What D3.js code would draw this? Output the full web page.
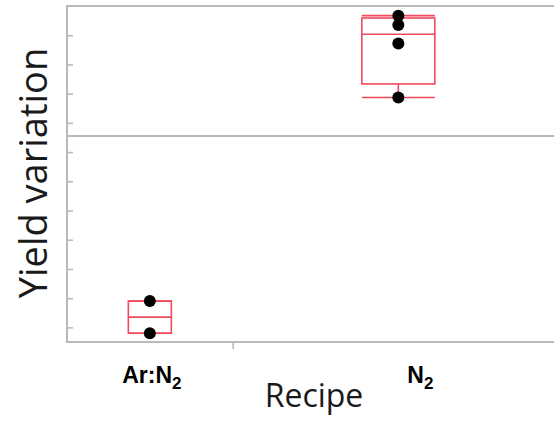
<!DOCTYPE html>
<html>
<head>
<meta charset="utf-8">
<script src="https://cdn.jsdelivr.net/npm/d3@7"></script>
<style>
  html, body { margin: 0; padding: 0; background: #fff; }
  svg { display: block; }
</style>
</head>
<body>
<svg id="chart" width="554" height="422"></svg>
<script>
// Yield variation by recipe (one-way box plot)
const recipes = ["Ar:N2", "N2"];
const arN2Values = [1.90, 0.80];
const n2Values = [11.67, 11.35, 10.72, 8.87];
const yTicks = [1, 2, 3, 4, 5, 6, 7, 8, 9, 10, 11];

const groups = [
  { name: recipes[0], values: arN2Values },
  { name: recipes[1], values: n2Values }
];

const svg = d3.select("#chart");
const W = 554, H = 422;
const plot = { left: 67, top: 6, right: 564, bottom: 342 };

const frameColor = "#b9b9b9";
const boxColor = "#f04a5e";

// Quantile with the p(n+1) rule, clamped to the data range
function quantile(sorted, p) {
  const n = sorted.length;
  const pos = p * (n + 1);
  if (pos <= 1) return sorted[0];
  if (pos >= n) return sorted[n - 1];
  const lo = Math.floor(pos);
  const frac = pos - lo;
  return sorted[lo - 1] + frac * (sorted[lo] - sorted[lo - 1]);
}

// x segments sized by group count
const total = d3.sum(groups, g => g.values.length);
let cum = 0;
groups.forEach(g => {
  g.start = cum;
  cum += g.values.length;
  g.end = cum;
  g.mid = (g.start + g.end) / 2;
});

const x = d3.scaleLinear().domain([0, total]).range([plot.left, plot.right]);
const y = d3.scaleLinear().domain([0.5, 12]).range([plot.bottom, plot.top]);

svg.attr("viewBox", `0 0 ${W} ${H}`);

svg.append("defs").append("clipPath").attr("id", "plotclip")
  .append("rect").attr("x", plot.left).attr("y", plot.top - 2)
  .attr("width", W - plot.left).attr("height", plot.bottom - plot.top + 4);

// grand mean line
const allValues = groups.flatMap(g => g.values);
const grandMean = d3.mean(allValues);

const gPlot = svg.append("g").attr("clip-path", "url(#plotclip)");

gPlot.append("line")
  .attr("x1", plot.left).attr("x2", plot.right)
  .attr("y1", y(grandMean)).attr("y2", y(grandMean))
  .attr("stroke", frameColor).attr("stroke-width", 2);

// boxes
const boxWidths = [43, 73];
groups.forEach((g, i) => {
  const s = g.values.slice().sort(d3.ascending);
  const q1 = quantile(s, 0.25), med = quantile(s, 0.5), q3 = quantile(s, 0.75);
  const iqr = q3 - q1;
  const hiW = d3.max(s.filter(v => v <= q3 + 1.5 * iqr));
  const loW = d3.min(s.filter(v => v >= q1 - 1.5 * iqr));
  const cx = x(g.mid);
  const bw = boxWidths[i];
  const gb = gPlot.append("g").attr("fill", "none").attr("stroke", boxColor).attr("stroke-width", 1.6);
  gb.append("rect")
    .attr("x", cx - bw / 2).attr("width", bw)
    .attr("y", y(q3)).attr("height", y(q1) - y(q3));
  gb.append("line").attr("x1", cx - bw / 2).attr("x2", cx + bw / 2)
    .attr("y1", y(med)).attr("y2", y(med));
  // whiskers
  gb.append("line").attr("x1", cx).attr("x2", cx).attr("y1", y(q3)).attr("y2", y(hiW));
  gb.append("line").attr("x1", cx).attr("x2", cx).attr("y1", y(q1)).attr("y2", y(loW));
  gb.append("line").attr("x1", cx - bw / 2).attr("x2", cx + bw / 2).attr("y1", y(hiW)).attr("y2", y(hiW));
  gb.append("line").attr("x1", cx - bw / 2).attr("x2", cx + bw / 2).attr("y1", y(loW)).attr("y2", y(loW));

  // points
  gPlot.append("g").selectAll("circle").data(g.values).join("circle")
    .attr("cx", cx).attr("cy", d => y(d)).attr("r", 6)
    .attr("fill", "#000");
});

// frame
const frame = svg.append("g").attr("stroke", frameColor).attr("stroke-width", 2).attr("fill", "none");
frame.append("line").attr("x1", plot.left).attr("x2", W).attr("y1", plot.top).attr("y2", plot.top);
frame.append("line").attr("x1", plot.left).attr("x2", W).attr("y1", plot.bottom).attr("y2", plot.bottom);
frame.append("line").attr("x1", plot.left).attr("x2", plot.left).attr("y1", plot.top - 1).attr("y2", plot.bottom + 1);

// y ticks (inward, unlabeled)
const yAxis = d3.axisRight(y).tickValues(yTicks).tickSize(6).tickFormat("");
const gy = svg.append("g").attr("transform", `translate(${plot.left},0)`).call(yAxis);
gy.select(".domain").remove();
gy.selectAll(".tick line").attr("stroke", frameColor).attr("stroke-width", 1.5);

// x tick at group boundary
const xAxis = d3.axisBottom(x).tickValues(groups.slice(0, -1).map(g => g.end)).tickSize(7).tickFormat("");
const gx = svg.append("g").attr("transform", `translate(0,${plot.bottom})`).call(xAxis);
gx.select(".domain").remove();
gx.selectAll(".tick line").attr("stroke", frameColor).attr("stroke-width", 1.5);

// category labels with subscript 2
const labelShift = [2, 22];
groups.forEach((g, i) => {
  const parts = g.name.split("2");
  const t = svg.append("text")
    .attr("x", x(g.mid) + labelShift[i]).attr("y", 383)
    .attr("text-anchor", "middle")
    .attr("font-family", "'Liberation Sans', Arial, sans-serif")
    .attr("font-weight", "bold").attr("font-size", 23).attr("fill", "#000");
  t.append("tspan").text(parts[0]);
  t.append("tspan").attr("font-size", 17).attr("dy", 6).text("2");
});

// axis titles
svg.append("text")
  .attr("x", 314).attr("y", 407)
  .attr("text-anchor", "middle")
  .attr("font-family", "'Open Sans', 'Noto Sans', sans-serif")
  .attr("font-size", 32).attr("fill", "#1a1a1a")
  .text("Recipe");

svg.append("text")
  .attr("transform", "translate(47,173) rotate(-90)")
  .attr("text-anchor", "middle")
  .attr("font-family", "'Open Sans', 'Noto Sans', sans-serif")
  .attr("font-size", 38).attr("fill", "#1a1a1a")
  .text("Yield variation");
</script>
</body>
</html>
